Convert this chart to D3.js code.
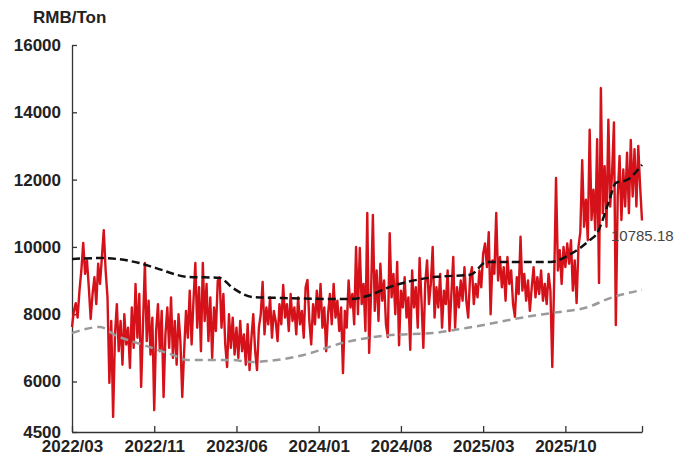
<!DOCTYPE html>
<html>
<head>
<meta charset="utf-8">
<script src="https://cdn.jsdelivr.net/npm/d3@7"></script>
<style>
  html, body { margin: 0; padding: 0; background: #fff; }
  #chart { width: 675px; height: 456px; }
  text { font-family: "Liberation Sans", Arial, sans-serif; }
</style>
</head>
<body>
<div id="chart"></div>
<script>
// daily-ish price (category axis, one entry per point)
const priceSeries = [
  7620, 8100, 8330, 7900, 8700, 9300, 10120, 9200, 9600, 8800,
  7860, 8600, 9100, 8300, 9500, 8900, 9700, 10500, 9300, 8500,
  5960, 7800, 4950, 7400, 8300, 6900, 7800, 6500, 8000, 7100,
  7600, 6400, 8200, 7000, 8900, 7300, 8600, 5840, 7700, 9520,
  7200, 8400, 6800, 7900, 5150, 7500, 8300, 6900, 8100, 5540,
  7400, 8200, 7000, 8500, 6700, 7800, 6500, 8000, 7200, 5540,
  6900, 8100, 7300, 8700, 7100, 8400, 9520, 7600, 8800, 6900,
  9520, 7800, 8900, 7200, 8500, 6700, 8200, 7500, 9000, 9100,
  7600, 8600, 7100, 6430, 8000, 7000, 7900, 6800, 7600, 6700,
  7800, 6900, 7400, 6500, 7700, 6340, 7300, 8000, 6900, 6340,
  7600, 8000, 8960, 7400, 8200, 7700, 8500, 7300, 8100, 7800,
  7200, 8300, 7700, 8870, 7900, 8300, 7500, 8600, 7800, 8200,
  7400, 8500, 7700, 8100, 7300, 8800, 9020, 7800, 7100, 8300,
  7700, 8700, 7900, 8900, 7600, 8200, 6900, 8000, 8600, 7700,
  8900, 7900, 8400, 7500, 8200, 6250, 8100, 7600, 9000, 8200,
  8600, 7700, 10000, 8000, 9970, 8300, 8900, 7500, 11010, 6850,
  8600, 10950, 8100, 9300, 7800, 9500, 8400, 9000, 7700, 7320,
  10410, 8500, 9200, 8000, 9550, 7080, 8700, 8200, 9100, 7900,
  8500, 6940, 9300, 8200, 8800, 7600, 9670, 8400, 7000, 8900,
  9600, 8300, 8900, 10000, 7900, 8800, 8200, 9200, 7600, 8700,
  8300, 9300, 7500, 8600, 9700, 7600, 8800, 8200, 9000, 8400,
  9400, 8400, 7900, 9100, 9400, 8300, 8900, 8500, 9300, 8800,
  9800, 10100, 9400, 10440, 8000, 9600, 9200, 11010, 9000, 9700,
  8800, 9400, 8400, 9700, 8900, 9300, 8300, 7920, 9100, 8600,
  10300, 8700, 9200, 8400, 9000, 8100, 8800, 9400, 8500, 9100,
  8600, 9300, 8400, 8900, 8300, 9200, 8700, 6430, 9000, 12050,
  9300, 9900, 8900, 10000, 9400, 10100, 9500, 10200, 8700, 9600,
  8330, 10000, 10440, 12580, 10600, 11400, 10200, 13480, 10800, 11700,
  10500, 13200, 8930, 14720, 11000, 12400, 10600, 13780, 11200, 12200,
  13700, 7680, 11500, 12700, 10800, 12300, 11200, 12800, 11000, 13180,
  11500, 12900, 11200, 13000, 11800, 10785.18
];

// slow average (black dashed): [point index, value]
const avgLong = [
  [0, 9640], [15, 9670], [36, 9520], [45, 9370], [62, 9110], [79, 9080],
  [86, 8780], [97, 8510], [113, 8480], [149, 8450], [158, 8540], [170, 8810],
  [195, 9110], [213, 9170], [222, 9550], [256, 9550], [266, 9760], [277, 10200],
  [281, 10410], [287, 11300], [291, 11900], [297, 11990], [305, 12440]
];

// lower reference line (grey dashed): [point index, value]
const avgLow = [
  [0, 7440], [15, 7620], [23, 7380], [38, 7090], [54, 6790], [62, 6640],
  [86, 6640], [95, 6580], [124, 6790], [145, 7150], [170, 7380], [193, 7440],
  [211, 7590], [243, 7920], [257, 8040], [276, 8210], [288, 8480], [305, 8720]
];

const xTickIndex = [0, 44, 88, 132, 176, 220, 264];
const xTickLabels = ["2022/03", "2022/11", "2023/06", "2024/01", "2024/08", "2025/03", "2025/10"];
const yTicks = [4500, 6000, 8000, 10000, 12000, 14000, 16000];
const unitLabel = "RMB/Ton";

const margin = { top: 45, right: 33, bottom: 24, left: 72 };
const W = 675, H = 456;
const width = W - margin.left - margin.right;
const height = H - margin.top - margin.bottom;

const svg = d3.select("#chart").append("svg")
  .attr("width", W)
  .attr("height", H);

const g = svg.append("g").attr("transform", `translate(${margin.left},${margin.top})`);

const x = d3.scaleLinear()
  .domain([0, priceSeries.length - 1])
  .range([0, width]);

const y = d3.scaleLinear()
  .domain([4500, 16000])
  .range([height, 0]);

// axes (ticks point inward)
const xAxis = d3.axisBottom(x)
  .tickValues(xTickIndex.concat([priceSeries.length - 1]))
  .tickSizeInner(-6)
  .tickSizeOuter(0)
  .tickFormat(d => {
    const k = xTickIndex.indexOf(d);
    return k >= 0 ? xTickLabels[k] : "";
  });

const yAxis = d3.axisLeft(y)
  .tickValues(yTicks)
  .tickSizeInner(-5)
  .tickSizeOuter(0)
  .tickFormat(d3.format("d"));

const gx = g.append("g")
  .attr("transform", `translate(0,${height})`)
  .call(xAxis);
gx.select(".domain").attr("stroke", "#333").attr("stroke-width", 1.3);
gx.selectAll(".tick line").attr("stroke", "#333").attr("stroke-width", 1.3);
gx.selectAll(".tick text")
  .attr("y", 20)
  .attr("dy", "0")
  .attr("font-size", 17)
  .attr("font-weight", "bold")
  .attr("fill", "#222");

const gy = g.append("g").call(yAxis);
gy.select(".domain").attr("stroke", "#333").attr("stroke-width", 1.3);
gy.selectAll(".tick line").attr("stroke", "#333").attr("stroke-width", 1.3);
gy.selectAll(".tick text")
  .attr("x", -11)
  .attr("font-size", 17)
  .attr("font-weight", "bold")
  .attr("fill", "#222");

// unit label
svg.append("text")
  .attr("x", 33)
  .attr("y", 23)
  .attr("font-size", 17)
  .attr("font-weight", "bold")
  .attr("fill", "#222")
  .text(unitLabel);

// price line
const priceLine = d3.line()
  .x((d, i) => x(i))
  .y(d => y(d));

g.append("path")
  .datum(priceSeries)
  .attr("d", priceLine)
  .attr("fill", "none")
  .attr("stroke", "#d5121a")
  .attr("stroke-width", 2.4)
  .attr("stroke-linejoin", "round");

const pairLine = d3.line()
  .x(d => x(d[0]))
  .y(d => y(d[1]))
  .curve(d3.curveMonotoneX);

g.append("path")
  .datum(avgLow)
  .attr("d", pairLine)
  .attr("fill", "none")
  .attr("stroke", "#9a9a9a")
  .attr("stroke-width", 2.5)
  .attr("stroke-dasharray", "8 5");

g.append("path")
  .datum(avgLong)
  .attr("d", pairLine)
  .attr("fill", "none")
  .attr("stroke", "#111")
  .attr("stroke-width", 2.5)
  .attr("stroke-dasharray", "8 4");

// last value label
const lastIdx = priceSeries.length - 1;
g.append("text")
  .attr("x", x(lastIdx) - 31)
  .attr("y", y(priceSeries[lastIdx]) + 21)
  .attr("font-size", 15)
  .attr("fill", "#444")
  .text(priceSeries[lastIdx].toFixed(2));
</script>
</body>
</html>
